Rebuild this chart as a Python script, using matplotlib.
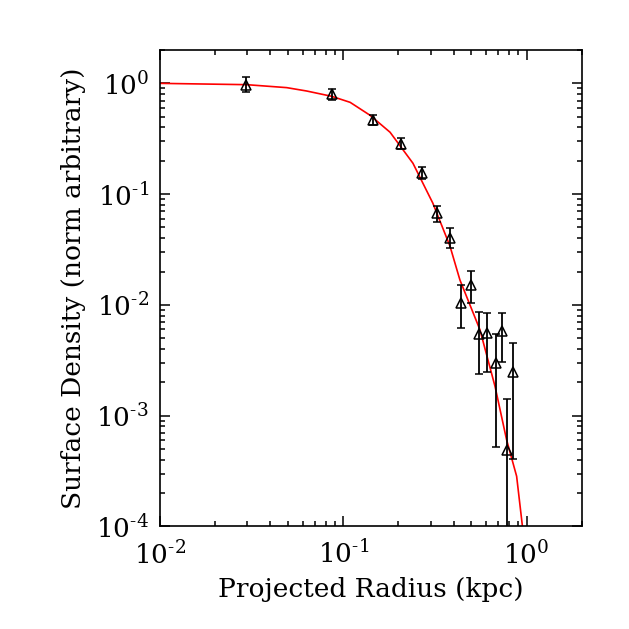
import matplotlib
matplotlib.use("Agg")
import matplotlib.pyplot as plt
from matplotlib.ticker import LogLocator, FixedLocator, FixedFormatter, NullFormatter
import numpy as np

plt.rcParams['font.family'] = ['DejaVu Serif']
plt.rcParams['mathtext.fontset'] = 'dejavuserif'
plt.rcParams['axes.unicode_minus'] = False

# Data points (projected radius in kpc, surface density normalised)
radius = [0.0294, 0.0868, 0.1445, 0.2066, 0.268, 0.3235, 0.382, 0.4387,
          0.4955, 0.550, 0.610, 0.678, 0.737, 0.779, 0.847]
density = [0.96, 0.807, 0.464, 0.282, 0.156, 0.067, 0.0399, 0.0105,
           0.0151, 0.00548, 0.00556, 0.00302, 0.00583, 0.000487, 0.00248]
dens_hi = [1.14, 0.896, 0.515, 0.318, 0.177, 0.0785, 0.049, 0.0151,
           0.0202, 0.0086, 0.0085, 0.00548, 0.0085, 0.00142, 0.00457]
dens_lo = [0.835, 0.713, 0.419, 0.253, 0.136, 0.0563, 0.0324, 0.00617,
           0.0104, 0.00239, 0.0025, 0.000518, 0.00308, 1e-6, 0.000408]

# Model curve
model_r = [0.01, 0.0297, 0.0491, 0.0631, 0.0864, 0.109, 0.140, 0.180, 0.240,
           0.308, 0.382, 0.433, 0.557, 0.673, 0.778, 0.883, 0.950, 0.965]
model_s = [1.0, 0.973, 0.915, 0.853, 0.764, 0.674, 0.515, 0.362, 0.190,
           0.083, 0.034, 0.0168, 0.00596, 0.00184, 0.000608, 0.000284, 1.0e-4, 3e-5]

xticks = [0.01, 0.1, 1.0]
xticklabels = [r'10$^{\text{-2}}$', r'10$^{\text{-1}}$', r'10$^{\text{0}}$']
yticks = [1e-4, 1e-3, 1e-2, 1e-1, 1.0]
yticklabels = [r'10$^{\text{-4}}$', r'10$^{\text{-3}}$', r'10$^{\text{-2}}$',
               r'10$^{\text{-1}}$', r'10$^{\text{0}}$']

fig = plt.figure(figsize=(6.29, 6.29), dpi=100)
ax = fig.add_axes([0.2544, 0.163, 0.9248 - 0.2544, 0.9205 - 0.163])

ax.plot(model_r, model_s, color='red', lw=1.2, zorder=2)

d = np.array(density)
yerr = [d - np.array(dens_lo), np.array(dens_hi) - d]
ax.errorbar(radius, density, yerr=yerr, fmt='^', mfc='none', mec='black', mew=1.1,
            ms=7, ecolor='black', elinewidth=1.3, capsize=3, capthick=1.3, zorder=3)

ax.set_xscale('log')
ax.set_yscale('log')
ax.set_xlim(0.01, 2.0)
ax.set_ylim(1e-4, 2.0)

ax.xaxis.set_major_locator(FixedLocator(xticks))
ax.xaxis.set_major_formatter(FixedFormatter(xticklabels))
ax.yaxis.set_major_locator(FixedLocator(yticks))
ax.yaxis.set_major_formatter(FixedFormatter(yticklabels))
ax.xaxis.set_minor_locator(LogLocator(base=10, subs=np.arange(2, 10), numticks=20))
ax.yaxis.set_minor_locator(LogLocator(base=10, subs=np.arange(2, 10), numticks=20))
ax.xaxis.set_minor_formatter(NullFormatter())
ax.yaxis.set_minor_formatter(NullFormatter())

ax.tick_params(which='both', direction='in', top=True, right=True, width=1.1)
ax.tick_params(which='major', length=7, labelsize=19)
ax.tick_params(axis='x', which='major', pad=10)
ax.tick_params(axis='y', which='major', pad=8)
ax.tick_params(which='minor', length=3.5)
for s in ax.spines.values():
    s.set_linewidth(1.2)

ax.set_xlabel('Projected Radius (kpc)', fontsize=19, labelpad=6)
ax.set_ylabel('Surface Density (norm arbitrary)', fontsize=19, labelpad=7)

fig.savefig('out.png', dpi=100)
